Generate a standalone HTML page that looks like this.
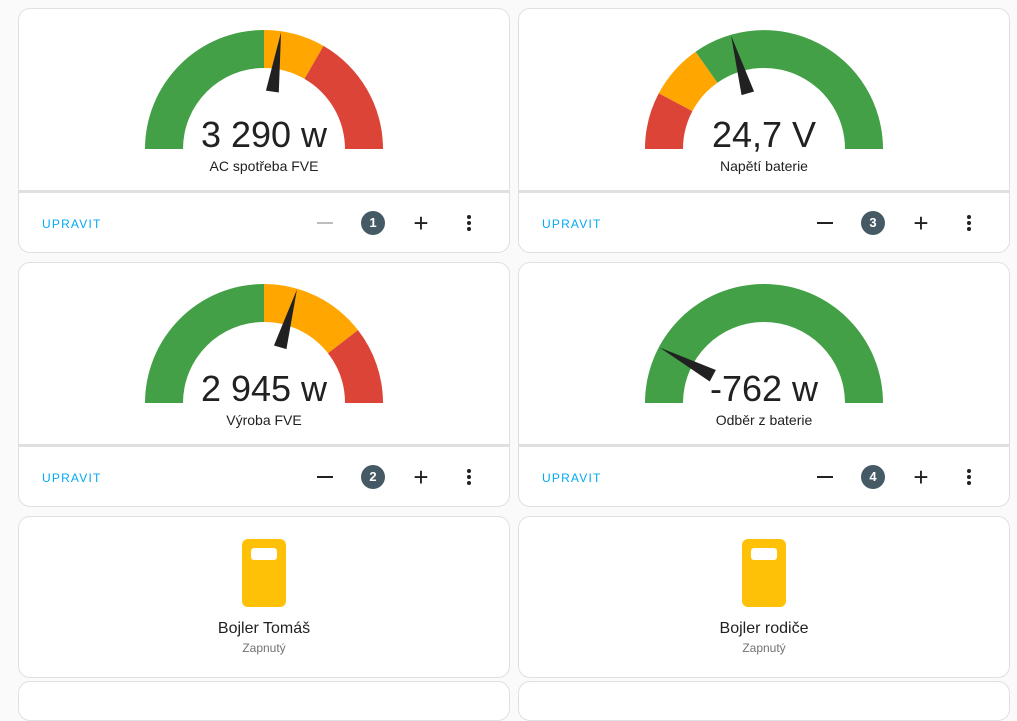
<!DOCTYPE html>
<html><head><meta charset="utf-8"><style>
body{margin:0;width:1017px;height:693px;background:#fafafa;font-family:"Liberation Sans",sans-serif;position:relative;overflow:hidden;color:#212121}
.card{position:absolute;background:#fff;border:1px solid #e0e0e0;border-radius:12px;box-sizing:border-box}
.sep{position:absolute;height:3px;background:#e0e0e0}
.val{position:absolute;width:300px;text-align:center;font-size:36px;line-height:36px}
.lbl{position:absolute;width:300px;text-align:center;font-size:14px}
.up{position:absolute;color:#03a9f4;font-size:12px;letter-spacing:1.2px;font-weight:500}
.minus{position:absolute;width:14px;height:2px;background:#212121}
.plus{position:absolute;font-size:26px;line-height:20px;width:20px;text-align:center}
.badge{position:absolute;width:24px;height:24px;border-radius:50%;background:#455a64;color:#fff;font-size:13px;text-align:center;line-height:24px;font-weight:bold}
.dots{position:absolute;width:4px}
.dots i{display:block;width:4px;height:4px;border-radius:50%;background:#212121;margin-bottom:2px}
.icon{position:absolute;width:44px;height:68px;background:#ffc107;border-radius:6px}
.icon i{position:absolute;left:9px;top:9px;width:26px;height:12px;background:#fff;border-radius:3px}
.nm{position:absolute;width:300px;text-align:center;font-size:16px}
.st{position:absolute;width:300px;text-align:center;font-size:12px;color:#727272}
</style></head><body>

<div class="card" style="left:18px;top:8px;width:492px;height:245px"></div>
<div class="sep" style="left:18px;top:190px;width:492px"></div>
<div class="card" style="left:518px;top:8px;width:492px;height:245px"></div>
<div class="sep" style="left:518px;top:190px;width:492px"></div>
<div class="card" style="left:18px;top:262px;width:492px;height:245px"></div>
<div class="sep" style="left:18px;top:444px;width:492px"></div>
<div class="card" style="left:518px;top:262px;width:492px;height:245px"></div>
<div class="sep" style="left:518px;top:444px;width:492px"></div>
<div class="card" style="left:18px;top:516px;width:492px;height:162px"></div>
<div class="card" style="left:518px;top:516px;width:492px;height:162px"></div>
<div class="card" style="left:18px;top:681px;width:492px;height:40px"></div>
<div class="card" style="left:518px;top:681px;width:492px;height:40px"></div>

<svg width="1017" height="693" style="position:absolute;left:0;top:0">
<defs>
<polygon id="nd" points="0,-118 -6.5,-58 6.5,-58" fill="#212121"/>
</defs>
<g transform="translate(264,149)">
<path d="M-119,0 A119,119 0 0 1 0,-119 L0,-81 A81,81 0 0 0 -81,0Z" fill="#43a047"/>
<path d="M0,-119 A119,119 0 0 1 59.5,-103.1 L40.5,-70.1 A81,81 0 0 0 0,-81Z" fill="#ffa600"/>
<path d="M59.5,-103.1 A119,119 0 0 1 119,0 L81,0 A81,81 0 0 0 40.5,-70.1Z" fill="#db4437"/>
<use href="#nd" transform="rotate(8.3)"/>
</g>
<g transform="translate(764,149)">
<path d="M-119,0 A119,119 0 0 1 -105.2,-55.7 L-71.6,-37.9 A81,81 0 0 0 -81,0Z" fill="#db4437"/>
<path d="M-105.2,-55.7 A119,119 0 0 1 -68.4,-97.3 L-46.6,-66.3 A81,81 0 0 0 -71.6,-37.9Z" fill="#ffa600"/>
<path d="M-68.4,-97.3 A119,119 0 0 1 119,0 L81,0 A81,81 0 0 0 -46.6,-66.3Z" fill="#43a047"/>
<use href="#nd" transform="rotate(-16.2)"/>
</g>
<g transform="translate(264,403)">
<path d="M-119,0 A119,119 0 0 1 0,-119 L0,-81 A81,81 0 0 0 -81,0Z" fill="#43a047"/>
<path d="M0,-119 A119,119 0 0 1 94,-72.9 L64,-49.7 A81,81 0 0 0 0,-81Z" fill="#ffa600"/>
<path d="M94,-72.9 A119,119 0 0 1 119,0 L81,0 A81,81 0 0 0 64,-49.7Z" fill="#db4437"/>
<use href="#nd" transform="rotate(16.2)"/>
</g>
<g transform="translate(764,403)">
<path d="M-119,0 A119,119 0 0 1 119,0 L81,0 A81,81 0 0 0 -81,0Z" fill="#43a047"/>
<use href="#nd" transform="rotate(-62)"/>
</g>
</svg>

<div class="val" style="left:114px;top:117px">3 290 w</div>
<div class="lbl" style="left:114px;top:158px">AC spotřeba FVE</div>
<div class="val" style="left:614px;top:117px">24,7 V</div>
<div class="lbl" style="left:614px;top:158px">Napětí baterie</div>
<div class="val" style="left:114px;top:371px">2 945 w</div>
<div class="lbl" style="left:114px;top:412px">Výroba FVE</div>
<div class="val" style="left:614px;top:371px">-762 w</div>
<div class="lbl" style="left:614px;top:412px">Odběr z baterie</div>

<div class="up" style="left:42px;top:217px">UPRAVIT</div>
<div class="minus" style="left:317px;top:222px;width:16px;background:#bdbdbd"></div>
<div class="badge" style="left:361px;top:211px">1</div>
<div class="plus" style="left:411px;top:213px">+</div>
<div class="dots" style="left:467px;top:215px"><i></i><i></i><i></i></div>

<div class="up" style="left:542px;top:217px">UPRAVIT</div>
<div class="minus" style="left:817px;top:222px;width:16px"></div>
<div class="badge" style="left:861px;top:211px">3</div>
<div class="plus" style="left:911px;top:213px">+</div>
<div class="dots" style="left:967px;top:215px"><i></i><i></i><i></i></div>

<div class="up" style="left:42px;top:471px">UPRAVIT</div>
<div class="minus" style="left:317px;top:476px;width:16px"></div>
<div class="badge" style="left:361px;top:465px">2</div>
<div class="plus" style="left:411px;top:467px">+</div>
<div class="dots" style="left:467px;top:469px"><i></i><i></i><i></i></div>

<div class="up" style="left:542px;top:471px">UPRAVIT</div>
<div class="minus" style="left:817px;top:476px;width:16px"></div>
<div class="badge" style="left:861px;top:465px">4</div>
<div class="plus" style="left:911px;top:467px">+</div>
<div class="dots" style="left:967px;top:469px"><i></i><i></i><i></i></div>

<div class="icon" style="left:242px;top:539px"><i></i></div>
<div class="nm" style="left:114px;top:620px">Bojler Tomáš</div>
<div class="st" style="left:114px;top:641px">Zapnutý</div>
<div class="icon" style="left:742px;top:539px"><i></i></div>
<div class="nm" style="left:614px;top:620px">Bojler rodiče</div>
<div class="st" style="left:614px;top:641px">Zapnutý</div>
</body></html>
